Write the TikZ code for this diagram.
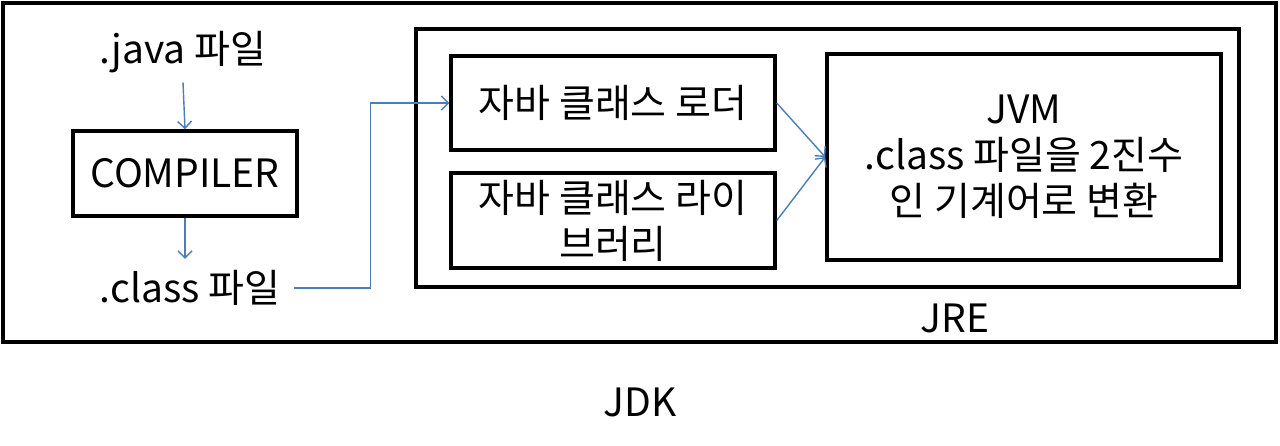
\documentclass[tikz,border=0pt]{standalone}
\usepackage{fontspec}
\setmainfont{Noto Sans CJK KR}
\usepackage{tikz}
\usetikzlibrary{positioning, arrows.meta}
\definecolor{flowblue}{HTML}{4A7EBB}
\tikzset{
    x=1pt, y=-1pt,
    >={Straight Barb[length=7pt,width=14pt]},
    every node/.style={font=\fontsize{39}{46}\selectfont, align=center},
    box/.style={draw, line width=3.5pt, inner sep=0pt},
    flow/.style={->, draw=flowblue, line width=1.4pt}
}

\begin{document}
\begin{tikzpicture}
    % frame
        \useasboundingbox (0,0) rectangle (1280,445);
        \node[box, line width=4pt, minimum width=1273pt, minimum height=339pt] (jdk) at (639.5,172.5) {};
        \node[box, line width=4pt, minimum width=823pt, minimum height=258pt] (jre) at (827.5,158) {};
        \node (jdklabel) at (640,402) {JDK};
        \node (jrelabel) at (955,318) {JRE};
    % compiler side
        \node (java) at (183,52) {.java 파일};
        \node[box, minimum width=224pt, minimum height=85pt] (comp) at (185,173.5) {COMPILER};
        \node (cls) at (190,288) {.class 파일};
    % jre side
        \node[box, minimum width=324pt, minimum height=94pt] (loader) at (613,103) {자바 클래스 로더};
        \node[box, minimum width=324pt, minimum height=95pt] (lib) at (613,220.5) {자바 클래스 라이\\브러리};
        \node[box, minimum width=394pt, minimum height=206pt] (jvm) at (1024,157) {JVM\\.class 파일을 2진수\\인 기계어로 변환};
        \draw[flow] (java.south) ++(0,6) -- (comp.north);
        \draw[flow] (comp.south) -- ++(0,41);
        \draw[flow] (cls.east) ++(10,0) -- ++(77,0) |- (loader.west);
        \draw[flow] (loader.east) -- (jvm.west);
        \draw[flow] (lib.east) -- (jvm.west);
    \end{tikzpicture}
\end{document}
